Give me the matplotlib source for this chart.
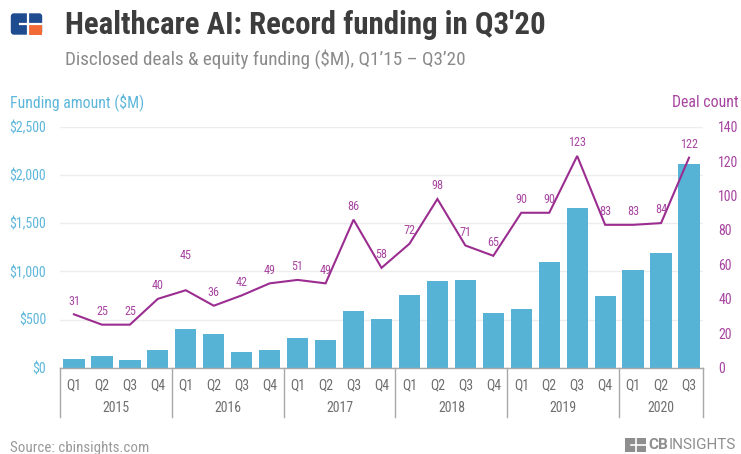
import matplotlib
matplotlib.use("Agg")
import matplotlib.pyplot as plt
from matplotlib import transforms
from matplotlib.patches import FancyBboxPatch, Rectangle

# ---------------- data ----------------
quarters = ["Q1", "Q2", "Q3", "Q4"] * 5 + ["Q1", "Q2", "Q3"]
years = ["2015", "2016", "2017", "2018", "2019", "2020"]
year_sizes = [4, 4, 4, 4, 4, 3]
funding = [88, 118, 82, 184, 400, 348, 163, 187, 312, 285, 590, 510,
           754, 903, 910, 570, 608, 1101, 1656, 740, 1018, 1195, 2108]
deals = [31, 25, 25, 40, 45, 36, 42, 49, 51, 49, 86, 58,
         72, 98, 71, 65, 90, 90, 123, 83, 83, 84, 122]
left_ticks = [0, 500, 1000, 1500, 2000, 2500]
left_ticklabels = ["$0", "$500", "$1,000", "$1,500", "$2,000", "$2,500"]
right_ticks = [0, 20, 40, 60, 80, 100, 120, 140]

# ---------------- style ----------------
W, H = 741, 454
COND = "Roboto Condensed"
BAR = "#56B3D6"
LINE = "#9B2D90"
LBL = "#A745A0"
BLUE_TXT = "#5DB7DA"
GRAY = "#6F6F6F"

plt.rcParams['font.family'] = [COND, "DejaVu Sans"]

fig = plt.figure(figsize=(W / 100, H / 100), dpi=100)

def fx(x):
    return x / W

def fy(y):
    return 1 - y / H

x0, x1 = 60, 703
ytop, ybot = 126.7, 367.7
ax = fig.add_axes([fx(x0), fy(ybot), fx(x1) - fx(x0), (ybot - ytop) / H])
ax2 = ax.twinx()
ax.set_zorder(ax2.get_zorder() - 1)
ax.patch.set_visible(False)

xs = list(range(len(funding)))
ax.bar(xs, funding, width=0.76, color=BAR, zorder=2)
ax.set_xlim(-0.5, len(funding) - 0.5)
ax.set_ylim(0, 2500)
ax.set_yticks(left_ticks)
ax.set_yticklabels(left_ticklabels)
ax.grid(axis='y', color="#EDEDED", linewidth=1.0, zorder=0)
ax.set_axisbelow(True)
ax.set_xticks([])
for s in ["top", "right", "left"]:
    ax.spines[s].set_visible(False)
ax.spines["bottom"].set_color("#A8A8A8")
ax.spines["bottom"].set_linewidth(1.0)
ax.tick_params(axis='y', length=0, pad=10, labelsize=10, labelcolor=BLUE_TXT)

ax2.plot(xs, deals, color=LINE, linewidth=1.5, zorder=3, solid_joinstyle='miter')
ax2.set_ylim(0, 140)
ax2.set_yticks(right_ticks)
ax2.tick_params(axis='y', length=0, pad=11, labelsize=10, labelcolor=LBL)
for s in ["top", "right", "left", "bottom"]:
    ax2.spines[s].set_visible(False)

label_offsets = {4: 25}
for i, d in enumerate(deals):
    off = label_offsets.get(i, 9.5)
    ax2.annotate(str(d), (i, d), xytext=(0, off), textcoords="offset points",
                 ha="center", va="center", fontsize=8.7, color=LBL)

# x-axis category labels
trans = transforms.blended_transform_factory(ax.transData, ax.transAxes)
axh = ybot - ytop
for i, q in enumerate(quarters):
    ax.text(i, -17.3 / axh, q, transform=trans, ha="center", va="center",
            fontsize=10, color=GRAY)
start = 0
bounds = [-0.5]
for yr, n in zip(years, year_sizes):
    mid = start + (n - 1) / 2
    ax.text(mid, -40.5 / axh, yr, transform=trans, ha="center", va="center",
            fontsize=10, color=GRAY)
    start += n
    bounds.append(start - 0.5)
for b in bounds:
    ax.plot([b, b], [0, -49 / axh], transform=trans, color="#A8A8A8",
            linewidth=1.0, clip_on=False)

# axis titles
fig.text(fx(10), fy(107), "Funding amount ($M)", ha="left", va="baseline",
         fontsize=11.3, color=BLUE_TXT)
fig.text(fx(739), fy(107), "Deal count", ha="right", va="baseline",
         fontsize=11.3, color=LBL)

# title & subtitle
fig.text(fx(65), fy(34.5), "Healthcare AI: Record funding in Q3'20", ha="left",
         va="baseline", fontsize=22.2, fontweight="bold", color="#3D3D3D")
fig.text(fx(65), fy(64.5), "Disclosed deals & equity funding ($M), Q1\u201915 \u2013 Q3\u201920",
         ha="left", va="baseline", fontsize=13.8, color="#8A8A8A")

# logo (top-left)
def logo(axl, c_main, c_acc):
    axl.set_xlim(0, 33)
    axl.set_ylim(0, 23)
    axl.axis("off")
    axl.add_patch(FancyBboxPatch((0.8, 0.8), 31.4, 21.4,
                                 boxstyle="round,pad=0,rounding_size=3",
                                 fc=c_main, ec="none"))
    axl.add_patch(Rectangle((18.5, 0.8), 13.7, 10.2, fc=c_acc, ec="none"))
    axl.plot([9.5, 33], [11.5, 11.5], color="white", linewidth=1.6)
    axl.plot([17.8, 17.8], [0, 23], color="white", linewidth=1.6)

la = fig.add_axes([fx(10), fy(35.5), fx(33), 23 / H])
logo(la, "#1F4C8F", "#F26A35")

# footer
fig.text(fx(10), fy(448), "Source: cbinsights.com", ha="left", va="center",
         fontsize=10.8, color="#9A9A9A")
lb = fig.add_axes([fx(625), fy(452), fx(21), 14 / H])
lb.set_xlim(0, 21); lb.set_ylim(0, 14); lb.axis("off")
lb.add_patch(Rectangle((0, 0), 21, 14, fc="#8E8E8E", ec="none"))
lb.plot([6, 21], [7, 7], color="white", linewidth=1.2)
lb.plot([11, 11], [0, 14], color="white", linewidth=1.2)
t1 = fig.text(fx(648), fy(445), "CB", ha="left", va="center", fontsize=11,
              fontweight="bold", color="#8E8E8E", family=["Roboto", "DejaVu Sans"])
fig.canvas.draw()
bb = t1.get_window_extent()
fig.text(bb.x1 / W + 0.5 / W, fy(445), "INSIGHTS", ha="left", va="center", fontsize=11,
         color="#8E8E8E", family=["Roboto", "DejaVu Sans"])

fig.savefig("out.png", dpi=100)
